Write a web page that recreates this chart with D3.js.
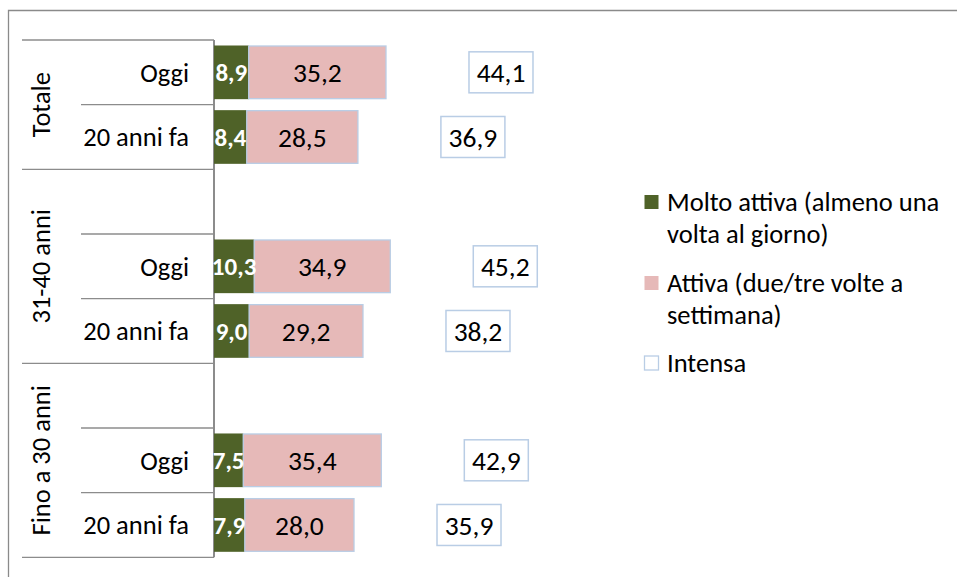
<!DOCTYPE html>
<html>
<head>
<meta charset="utf-8">
<script src="https://cdn.jsdelivr.net/npm/d3@7"></script>
<style>
  body { margin: 0; background: #fff; }
  text { font-family: Calibri, Carlito, Lato, "Open Sans", sans-serif; }
</style>
</head>
<body>
<svg id="chart" width="957" height="577"></svg>
<script>
// categories
const groups = ['Totale', '31-40 anni', 'Fino a 30 anni'];
const periods = ['Oggi', '20 anni fa'];

// values, one per group x period (Oggi, 20 anni fa)
const moltoAttiva = [8.9, 8.4, 10.3, 9.0, 7.5, 7.9];
const attiva = [35.2, 28.5, 34.9, 29.2, 35.4, 28.0];
const intensa = [44.1, 36.9, 45.2, 38.2, 42.9, 35.9];

const seriesNames = [
  'Molto attiva (almeno una volta al giorno)',
  'Attiva (due/tre volte a settimana)',
  'Intensa'
];

const colors = { dark: '#4f6228', pink: '#e6b9b8', edge: '#b9cde5', grid: '#8c8c8c' };

const svg = d3.select('#chart');
const fmt = v => d3.format('.1f')(v).replace('.', ',');

// Step 1: slots, every group after the first gets an empty leading slot
const slots = [];
groups.forEach((g, gi) => {
  if (gi > 0) slots.push({ key: g + '|', group: g, period: '' });
  periods.forEach((p, pi) => {
    slots.push({ key: g + '|' + p, group: g, period: p, i: gi * periods.length + pi });
  });
});

const yScale = d3.scaleBand()
  .domain(slots.map(d => d.key))
  .range([40, 557.3])
  .paddingInner(0.17)
  .paddingOuter(0.085);

const step = yScale.step();
const yTop = yScale.range()[0];
const xScale = d3.scaleLinear().domain([0, 100]).range([214, 604]);

// outer frame (top + left only)
svg.append('path')
  .attr('d', 'M8.5,577 V10.5 H957')
  .attr('fill', 'none')
  .attr('stroke', '#8a8a8a')
  .attr('stroke-width', 1.3);

// Step 2: category grid lines
const groupStarts = new Set();
slots.forEach((d, i) => { if (i === 0 || slots[i - 1].group !== d.group) groupStarts.add(i); });

const lines = d3.range(slots.length + 1).map(i => ({
  y: yTop + i * step,
  outer: i === slots.length || groupStarts.has(i)
}));

svg.append('g')
  .selectAll('line')
  .data(lines)
  .join('line')
  .attr('x1', d => d.outer ? 22 : 81)
  .attr('x2', xScale(0))
  .attr('y1', d => d.y)
  .attr('y2', d => d.y)
  .attr('stroke', colors.grid)
  .attr('stroke-width', 1.3);

svg.append('line')
  .attr('x1', xScale(0)).attr('x2', xScale(0))
  .attr('y1', yTop).attr('y2', yTop + slots.length * step)
  .attr('stroke', colors.grid)
  .attr('stroke-width', 2);

// period labels
svg.append('g')
  .selectAll('text')
  .data(slots.filter(d => d.period))
  .join('text')
  .attr('x', 189)
  .attr('y', d => yScale(d.key) + yScale.bandwidth() / 2)
  .attr('dy', '0.35em')
  .attr('text-anchor', 'end')
  .attr('font-size', 26.5)
  .attr('fill', '#000')
  .text(d => d.period);

// group labels, rotated
svg.append('g')
  .selectAll('text')
  .data(groups)
  .join('text')
  .attr('transform', g => {
    const idx = slots.map((d, i) => d.group === g ? i : -1).filter(i => i >= 0);
    const cy = yTop + (idx[0] + idx[idx.length - 1] + 1) / 2 * step;
    return `translate(41,${cy}) rotate(-90)`;
  })
  .attr('dy', '0.35em')
  .attr('text-anchor', 'middle')
  .attr('font-size', 26.5)
  .attr('fill', '#000')
  .text(g => g);

// Step 3: stacked bars
const bars = slots.filter(d => d.period);

const barG = svg.append('g');
barG.selectAll('rect.molto')
  .data(bars)
  .join('rect')
  .attr('class', 'molto')
  .attr('x', xScale(0))
  .attr('y', d => yScale(d.key))
  .attr('width', d => xScale(moltoAttiva[d.i]) - xScale(0))
  .attr('height', yScale.bandwidth())
  .attr('fill', colors.dark);

barG.selectAll('rect.attiva')
  .data(bars)
  .join('rect')
  .attr('class', 'attiva')
  .attr('x', d => xScale(moltoAttiva[d.i]))
  .attr('y', d => yScale(d.key) + 0.5)
  .attr('width', d => xScale(attiva[d.i]) - xScale(0))
  .attr('height', yScale.bandwidth() - 1)
  .attr('fill', colors.pink)
  .attr('stroke', colors.edge)
  .attr('stroke-width', 1.3);

barG.selectAll('text.molto')
  .data(bars)
  .join('text')
  .attr('class', 'molto')
  .attr('x', d => xScale(moltoAttiva[d.i] / 2))
  .attr('y', d => yScale(d.key) + yScale.bandwidth() / 2)
  .attr('dy', '0.35em')
  .attr('text-anchor', 'middle')
  .attr('font-size', 25)
  .attr('font-weight', 'bold')
  .attr('fill', '#fff')
  .text(d => fmt(moltoAttiva[d.i]));

barG.selectAll('text.attiva')
  .data(bars)
  .join('text')
  .attr('class', 'attiva')
  .attr('x', d => xScale(moltoAttiva[d.i] + attiva[d.i] / 2))
  .attr('y', d => yScale(d.key) + yScale.bandwidth() / 2)
  .attr('dy', '0.35em')
  .attr('text-anchor', 'middle')
  .attr('font-size', 27.5)
  .attr('fill', '#000')
  .text(d => fmt(attiva[d.i]));

// Step 4: "Intensa" totals in boxed labels past the bar end
const boxW = 64, boxH = 41;
const intG = barG.selectAll('g.intensa')
  .data(bars)
  .join('g')
  .attr('class', 'intensa')
  .attr('transform', d => `translate(${xScale(intensa[d.i]) + 115},${yScale(d.key) + yScale.bandwidth() / 2})`);

intG.append('rect')
  .attr('x', -boxW / 2).attr('y', -boxH / 2)
  .attr('width', boxW).attr('height', boxH)
  .attr('fill', '#fff')
  .attr('stroke', colors.edge)
  .attr('stroke-width', 1.5);

intG.append('text')
  .attr('dy', '0.35em')
  .attr('text-anchor', 'middle')
  .attr('font-size', 27.5)
  .attr('fill', '#000')
  .text(d => fmt(intensa[d.i]));

// Step 5: legend
const legend = svg.append('g').attr('transform', 'translate(644,0)');
const legendY = [202, 283, 363];
const swatch = [
  { fill: colors.dark, stroke: 'none' },
  { fill: colors.pink, stroke: 'none' },
  { fill: '#fff', stroke: colors.edge }
];

seriesNames.forEach((name, i) => {
  const item = legend.append('g').attr('transform', `translate(0,${legendY[i]})`);
  item.append('rect')
    .attr('x', 0.5).attr('y', -7)
    .attr('width', 14).attr('height', 14)
    .attr('fill', swatch[i].fill)
    .attr('stroke', swatch[i].stroke)
    .attr('stroke-width', 1.3);

  const txt = item.append('text')
    .attr('x', 23)
    .attr('font-size', 26.5)
    .attr('fill', '#000');

  // wrap words to the legend width
  const words = name.split(' ');
  let line = [];
  let lineNo = 0;
  let tspan = txt.append('tspan').attr('x', 23).attr('y', 0).attr('dy', '0.35em');
  words.forEach(w => {
    line.push(w);
    tspan.text(line.join(' '));
    if (tspan.node().getComputedTextLength() > 290 && line.length > 1) {
      line.pop();
      tspan.text(line.join(' '));
      line = [w];
      lineNo += 1;
      tspan = txt.append('tspan').attr('x', 23).attr('y', lineNo * 32).attr('dy', '0.35em').text(w);
    }
  });
});
</script>
</body>
</html>
